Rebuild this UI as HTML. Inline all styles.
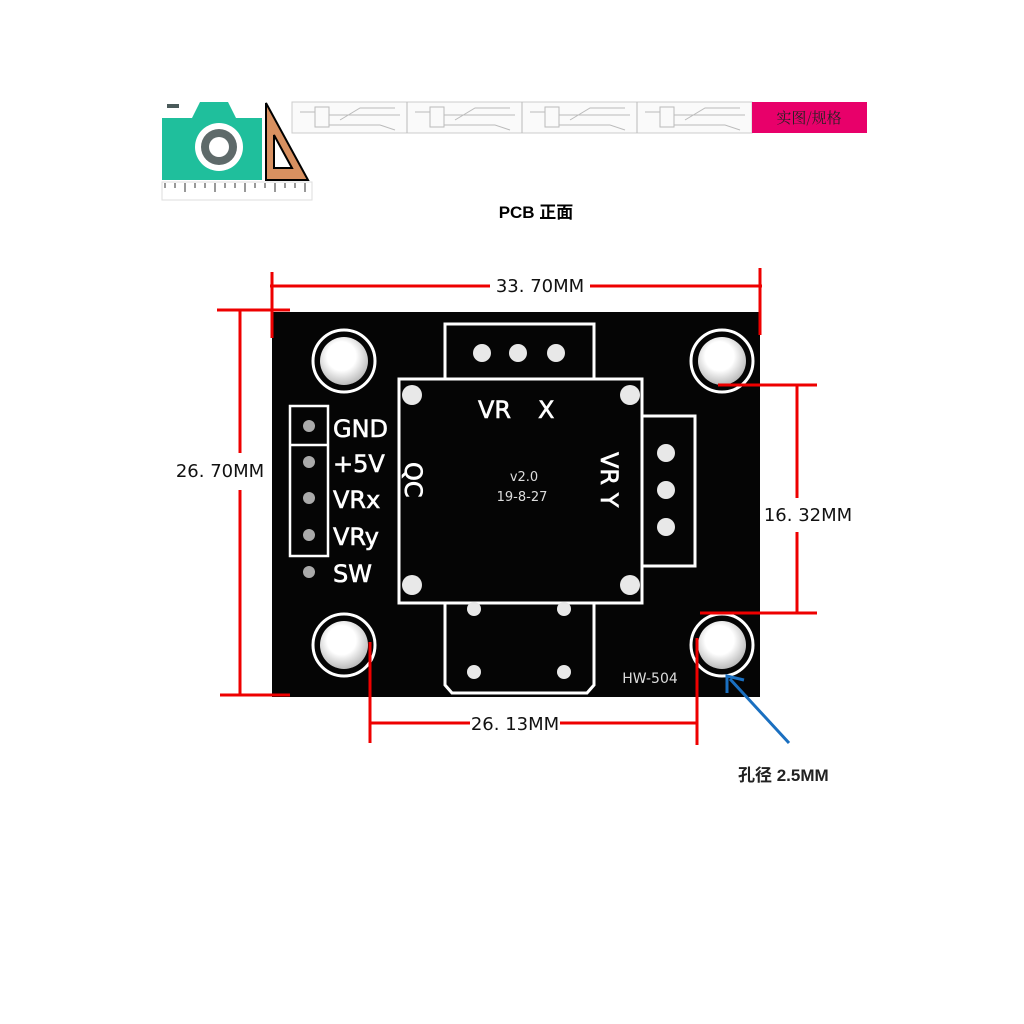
<!DOCTYPE html>
<html><head><meta charset="utf-8"><style>
body{margin:0;background:#fff;width:1024px;height:1024px;overflow:hidden}
svg{display:block}
</style></head><body>
<svg width="1024" height="1024" viewBox="0 0 1024 1024" xmlns="http://www.w3.org/2000/svg">
<defs>
<radialGradient id="h" cx="0.45" cy="0.4" r="0.6"><stop offset="0.5" stop-color="#fff"/><stop offset="1" stop-color="#bbb"/></radialGradient>
</defs>
<!-- header -->
<rect x="167" y="104" width="12" height="4" fill="#4a5a5a"/>
<path d="M162 118 H192 L200 102 H228 L236 118 H262 V180 H162 Z" fill="#1fbf9c"/>
<circle cx="219" cy="147" r="24" fill="#fff"/><circle cx="219" cy="147" r="18" fill="#5e6a6a"/><circle cx="219" cy="147" r="10" fill="#fff"/>
<path d="M266 103 L308 180 H266 Z" fill="#d89060" stroke="#000" stroke-width="2"/>
<path d="M274 135 L292 168 H274 Z" fill="#fff" stroke="#000" stroke-width="2"/>
<rect x="162" y="182" width="150" height="18" fill="#fff" stroke="#ddd"/>
<g stroke="#333" stroke-width="1">
<line x1="165" y1="183" x2="165" y2="188"/><line x1="175" y1="183" x2="175" y2="188"/><line x1="185" y1="183" x2="185" y2="192"/><line x1="195" y1="183" x2="195" y2="188"/><line x1="205" y1="183" x2="205" y2="188"/><line x1="215" y1="183" x2="215" y2="192"/><line x1="225" y1="183" x2="225" y2="188"/><line x1="235" y1="183" x2="235" y2="188"/><line x1="245" y1="183" x2="245" y2="192"/><line x1="255" y1="183" x2="255" y2="188"/><line x1="265" y1="183" x2="265" y2="188"/><line x1="275" y1="183" x2="275" y2="192"/><line x1="285" y1="183" x2="285" y2="188"/><line x1="295" y1="183" x2="295" y2="188"/><line x1="305" y1="183" x2="305" y2="192"/>
</g>
<rect x="292" y="102" width="460" height="31" fill="#fafafa" stroke="#ccc"/>
<g stroke="#bbb" fill="none">
<line x1="407" y1="102" x2="407" y2="133"/><line x1="522" y1="102" x2="522" y2="133"/><line x1="637" y1="102" x2="637" y2="133"/>
<rect x="315" y="107" width="14" height="20"/><rect x="430" y="107" width="14" height="20"/><rect x="545" y="107" width="14" height="20"/><rect x="660" y="107" width="14" height="20"/>
<path d="M300 112 H315 M329 115 H400 M340 120 L360 108 H395 M329 125 H380 L395 130"/>
<path d="M415 112 H430 M444 115 H515 M455 120 L475 108 H510 M444 125 H495 L510 130"/>
<path d="M530 112 H545 M559 115 H630 M570 120 L590 108 H625 M559 125 H610 L625 130"/>
<path d="M645 112 H660 M674 115 H745 M685 120 L705 108 H740 M674 125 H725 L740 130"/>
</g>
<rect x="752" y="102" width="115" height="31" fill="#e8006a"/>
<text x="809" y="123" font-family="Noto Serif CJK SC, serif" font-size="15" fill="#222" text-anchor="middle">实图/规格</text>
<text x="536" y="218" font-family="Liberation Sans, Noto Sans CJK SC, sans-serif" font-size="17" font-weight="bold" text-anchor="middle">PCB 正面</text>

<!-- board -->
<rect x="272" y="312" width="488" height="385" fill="#050505"/>
<g fill="none" stroke="#fff" stroke-width="3">
<circle cx="344" cy="361" r="31"/><circle cx="722" cy="361" r="31"/><circle cx="344" cy="645" r="31"/><circle cx="722" cy="645" r="31"/>
<path d="M445 379 V324 H594 V379"/>
<rect x="399" y="379" width="243" height="224"/>
<path d="M642 416 H695 V566 H642"/>
<path d="M445 603 V685 L452 693 H587 L594 685 V603"/>
<rect x="290" y="406" width="38" height="150" stroke-width="2.5"/>
<line x1="290" y1="445" x2="328" y2="445" stroke-width="2.5"/>
</g>
<g fill="url(#h)">
<circle cx="344" cy="361" r="24"/><circle cx="722" cy="361" r="24"/><circle cx="344" cy="645" r="24"/><circle cx="722" cy="645" r="24"/>
</g>
<g fill="#e8e8e8">
<circle cx="482" cy="353" r="9"/><circle cx="518" cy="353" r="9"/><circle cx="556" cy="353" r="9"/>
<circle cx="666" cy="453" r="9"/><circle cx="666" cy="490" r="9"/><circle cx="666" cy="527" r="9"/>
<circle cx="474" cy="609" r="7"/><circle cx="564" cy="609" r="7"/><circle cx="474" cy="672" r="7"/><circle cx="564" cy="672" r="7"/>
<circle cx="412" cy="395" r="10"/><circle cx="630" cy="395" r="10"/><circle cx="412" cy="585" r="10"/><circle cx="630" cy="585" r="10"/>
</g>
<g fill="#aaa"><circle cx="309" cy="426" r="6"/><circle cx="309" cy="462" r="6"/><circle cx="309" cy="498" r="6"/><circle cx="309" cy="535" r="6"/><circle cx="309" cy="572" r="6"/></g>
<g font-family="DejaVu Sans, sans-serif" font-size="24" fill="#fff" stroke="#fff" stroke-width="0.6">
<text x="333" y="437" textLength="55" lengthAdjust="spacingAndGlyphs">GND</text>
<text x="333" y="472">+5V</text>
<text x="333" y="508">VRx</text>
<text x="333" y="545">VRy</text>
<text x="333" y="582">SW</text>
<text x="478" y="418">VR</text><text x="538" y="418">X</text>
<text transform="translate(601,452) rotate(90)">VR  Y</text>
<text transform="translate(405,462) rotate(90)">QC</text>
</g>
<g font-family="DejaVu Sans, sans-serif" font-size="13" fill="#ddd" text-anchor="middle">
<text x="524" y="481">v2.0</text><text x="522" y="501">19-8-27</text>
</g>
<text x="650" y="683" font-family="DejaVu Sans, sans-serif" font-size="14" fill="#ddd" text-anchor="middle">HW-504</text>

<!-- dimensions -->
<g stroke="#e00" stroke-width="3" fill="none">
<line x1="270" y1="286" x2="490" y2="286"/><line x1="590" y1="286" x2="762" y2="286"/>
<line x1="272" y1="272" x2="272" y2="338"/><line x1="760" y1="268" x2="760" y2="335"/>
<line x1="240" y1="310" x2="240" y2="453"/><line x1="240" y1="490" x2="240" y2="695"/>
<line x1="217" y1="310" x2="290" y2="310"/><line x1="220" y1="695" x2="290" y2="695"/>
<line x1="718" y1="385" x2="817" y2="385"/><line x1="700" y1="613" x2="817" y2="613"/>
<line x1="797" y1="385" x2="797" y2="498"/><line x1="797" y1="532" x2="797" y2="613"/>
<line x1="370" y1="642" x2="370" y2="743"/><line x1="697" y1="638" x2="697" y2="745"/>
<line x1="370" y1="723" x2="470" y2="723"/><line x1="560" y1="723" x2="697" y2="723"/>
</g>
<g font-family="DejaVu Sans, sans-serif" font-size="18" fill="#111">
<text x="540" y="292" text-anchor="middle">33. 70MM</text>
<text x="220" y="477" text-anchor="middle">26. 70MM</text>
<text x="808" y="521" text-anchor="middle">16. 32MM</text>
<text x="515" y="730" text-anchor="middle">26. 13MM</text>
</g>
<line x1="789" y1="743" x2="730" y2="679" stroke="#1a6fc0" stroke-width="3"/>
<path d="M727 693 L727 676 L744 680" fill="none" stroke="#1a6fc0" stroke-width="3"/>
<text x="738" y="781" font-family="Liberation Sans, Noto Sans CJK SC, sans-serif" font-size="17" font-weight="bold" fill="#222">孔径 2.5MM</text>
</svg>
</body></html>
